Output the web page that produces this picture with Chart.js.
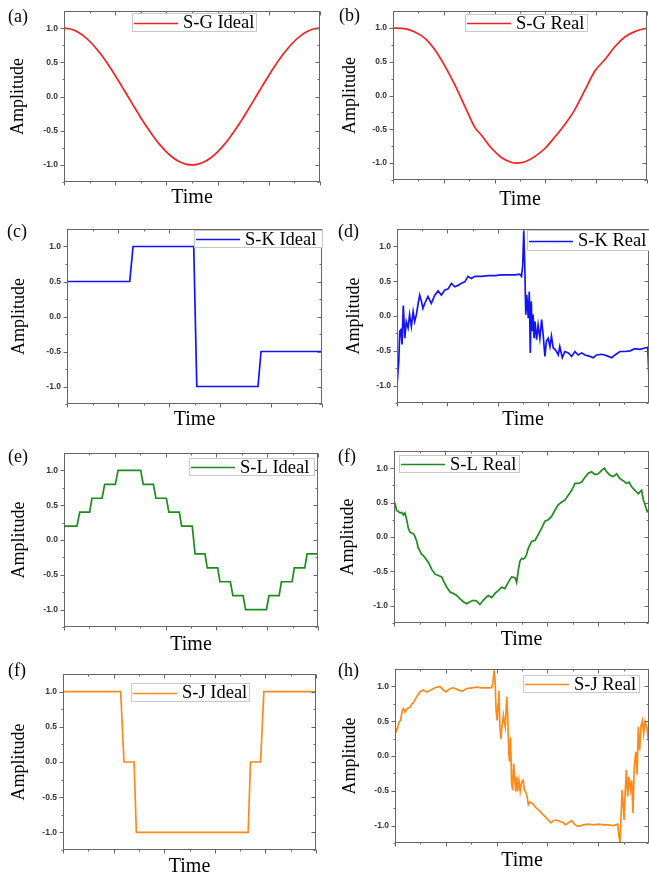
<!DOCTYPE html>
<html>
<head>
<meta charset="utf-8">
<script src="https://cdn.jsdelivr.net/npm/chart.js@4.4.0/dist/chart.umd.min.js"></script>
<style>
  html, body { margin: 0; padding: 0; background: #fff; }
  body { position: relative; width: 649px; height: 879px; overflow: hidden; }
  canvas { position: absolute; }
  .tag { position: absolute; font: 18px/18px "Liberation Serif", "Times New Roman", serif; color: #000; }
</style>
</head>
<body>
<script>
// tick positions shared by all eight panels
const xTicks = [0, 20, 40, 60, 80, 100];
const yTicks = [-1.0, -0.5, 0.0, 0.5, 1.0];

// (a) S-G ideal
const sgIdealTime = [0, 2.5, 5, 7.5, 10, 12.5, 15, 17.5, 20, 22.5, 25, 27.5, 30, 32.5, 35, 37.5, 40, 42.5, 45, 47.5, 50,
  52.5, 55, 57.5, 60, 62.5, 65, 67.5, 70, 72.5, 75, 77.5, 80, 82.5, 85, 87.5, 90, 92.5, 95, 97.5, 100];
const sgIdealAmp = [1.000, 0.988, 0.951, 0.891, 0.809, 0.707, 0.588, 0.454, 0.309, 0.156, 0.000, -0.156, -0.309, -0.454,
  -0.588, -0.707, -0.809, -0.891, -0.951, -0.988, -1.000, -0.988, -0.951, -0.891, -0.809, -0.707, -0.588, -0.454, -0.309,
  -0.156, 0.000, 0.156, 0.309, 0.454, 0.588, 0.707, 0.809, 0.891, 0.951, 0.988, 1.000];

// (b) S-G real
const sgRealTime = [0, 4.6, 8.6, 12.5, 16.4, 20.4, 24.3, 28.3, 32.2, 34.9, 38.8, 42.8, 46.7, 48.7, 52.0, 55.9, 59.9, 63.8,
  67.8, 71.7, 75.7, 79.6, 83.6, 87.5, 91.4, 95.4, 100];
const sgRealAmp = [1.00, 0.99, 0.94, 0.85, 0.68, 0.44, 0.16, -0.16, -0.47, -0.59, -0.78, -0.92, -0.99, -1.00, -0.98, -0.90,
  -0.78, -0.61, -0.42, -0.20, 0.09, 0.37, 0.54, 0.73, 0.87, 0.95, 1.00];

// (c) S-K ideal
const skIdealTime = [0, 24.6, 25.9, 49.7, 50.9, 74.9, 76.1, 100];
const skIdealAmp = [0.5, 0.5, 1.0, 1.0, -1.0, -1.0, -0.5, -0.5];

// (d) S-K real
const skRealTime = [0, 0.7, 1.1, 1.5, 2.0, 2.5, 3.1, 3.7, 4.4, 5.0, 5.7, 6.4, 7.0, 7.7, 8.3, 9.0, 9.7, 10.3, 11.0, 12.3,
  13.6, 15.0, 16.3, 17.6, 18.9, 20.3, 21.6, 22.9, 24.2, 25.6, 26.9, 28.2, 29.5, 30.9, 33.5, 36.2, 38.8, 41.5, 44.1, 46.8,
  48.7, 49.4, 49.9, 50.3, 50.7, 51.1, 51.5, 52.1, 52.5, 52.9, 53.3, 53.6, 54.0, 54.4, 54.8, 55.4, 56.0, 56.7, 57.4, 58.0,
  58.7, 59.3, 60.0, 60.7, 61.3, 62.0, 62.7, 63.3, 64.0, 64.6, 65.6, 66.6, 68.0, 69.3, 70.6, 71.9, 73.3, 74.6, 76.6, 77.9,
  79.2, 81.2, 83.2, 85.2, 86.5, 88.5, 90.5, 92.5, 94.4, 96.4, 98.4, 99.5, 100];
const skRealAmp = [-1.0, -0.65, -0.22, -0.20, -0.41, 0.15, -0.32, -0.08, -0.17, 0.02, -0.15, 0.06, -0.08, 0.02, 0.16, 0.30,
  0.21, 0.11, 0.18, 0.28, 0.18, 0.30, 0.36, 0.30, 0.37, 0.39, 0.47, 0.42, 0.44, 0.47, 0.49, 0.57, 0.54, 0.57, 0.57, 0.58,
  0.58, 0.59, 0.59, 0.59, 0.60, 0.57, 0.73, 1.23, 0.73, 0.02, 0.30, -0.03, 0.35, -0.53, 0.21, -0.22, 0.02, -0.32, -0.08,
  -0.34, -0.13, -0.32, -0.05, -0.27, -0.58, -0.36, -0.32, -0.44, -0.29, -0.46, -0.48, -0.51, -0.56, -0.44, -0.60, -0.51,
  -0.53, -0.58, -0.51, -0.56, -0.53, -0.56, -0.58, -0.60, -0.56, -0.55, -0.57, -0.60, -0.56, -0.51, -0.51, -0.50, -0.47,
  -0.48, -0.46, -0.45, -0.89];

// (e) S-L ideal
const slIdealTime = [0, 5.1, 6.2, 10.1, 11.0, 15.0, 16.0, 20.2, 21.3, 30.2, 31.2, 35.2, 36.2, 40.3, 41.3, 45.4, 46.3, 50.5,
  51.6, 55.5, 56.4, 60.5, 61.4, 65.5, 66.5, 70.5, 71.5, 79.7, 80.7, 84.7, 85.6, 89.8, 90.7, 94.8, 95.7, 100];
const slIdealAmp = [0.2, 0.2, 0.4, 0.4, 0.6, 0.6, 0.8, 0.8, 1.0, 1.0, 0.8, 0.8, 0.6, 0.6, 0.4, 0.4, 0.2, 0.2, -0.2, -0.2,
  -0.4, -0.4, -0.6, -0.6, -0.8, -0.8, -1.0, -1.0, -0.8, -0.8, -0.6, -0.6, -0.4, -0.4, -0.2, -0.2];

// (f) S-L real
const slRealTime = [0, 0.4, 1.0, 1.7, 2.4, 3.0, 3.7, 4.3, 5.0, 5.6, 6.3, 6.9, 7.6, 8.2, 8.9, 9.5, 10.2, 10.8, 11.5, 12.2,
  13.5, 14.8, 16.1, 17.4, 18.7, 19.3, 20.7, 22.0, 23.3, 24.6, 25.9, 27.2, 28.5, 29.8, 31.1, 32.4, 33.7, 35.0, 36.3, 37.0,
  38.3, 39.6, 40.9, 42.2, 43.5, 44.8, 46.1, 47.5, 48.1, 48.8, 49.4, 50.1, 50.7, 51.4, 52.0, 52.7, 54.0, 55.3, 56.6, 57.9,
  59.2, 60.5, 61.8, 63.1, 64.4, 65.8, 67.1, 68.4, 69.7, 71.0, 72.3, 73.6, 74.9, 76.2, 77.5, 78.8, 80.1, 81.4, 82.5, 83.4,
  84.7, 86.0, 87.3, 88.6, 89.9, 91.2, 92.2, 93.2, 94.5, 95.8, 96.5, 97.1, 97.8, 98.7, 99.3, 100];
const slRealAmp = [0.51, 0.49, 0.39, 0.37, 0.35, 0.36, 0.32, 0.35, 0.25, 0.13, 0.07, 0.06, 0.05, 0.01, -0.06, -0.16, -0.20,
  -0.25, -0.27, -0.30, -0.37, -0.47, -0.54, -0.56, -0.58, -0.63, -0.73, -0.80, -0.82, -0.85, -0.90, -0.94, -0.97, -0.94,
  -0.92, -0.93, -0.98, -0.92, -0.87, -0.85, -0.88, -0.82, -0.78, -0.73, -0.75, -0.66, -0.58, -0.59, -0.66, -0.47, -0.35,
  -0.31, -0.32, -0.30, -0.25, -0.16, -0.06, -0.05, 0.04, 0.13, 0.23, 0.25, 0.30, 0.39, 0.47, 0.51, 0.54, 0.61, 0.68, 0.78,
  0.78, 0.80, 0.87, 0.93, 0.95, 0.91, 0.92, 0.97, 1.00, 0.95, 0.90, 0.88, 0.92, 0.85, 0.82, 0.78, 0.80, 0.73, 0.68, 0.63,
  0.66, 0.68, 0.54, 0.44, 0.37, 0.39];

// (g) S-J ideal
const sjIdealTime = [0, 22.8, 24.1, 28.1, 29.0, 73.2, 74.1, 78.1, 79.4, 100];
const sjIdealAmp = [1.0, 1.0, 0.0, 0.0, -1.0, -1.0, 0.0, 0.0, 1.0, 1.0];

// (h) S-J real
const sjRealTime = [0, 0.4, 0.9, 1.6, 2.2, 2.9, 3.4, 3.9, 4.6, 5.2, 5.9, 6.6, 7.2, 7.9, 8.5, 9.8, 11.2, 12.5, 13.8, 15.7,
  17.7, 19.0, 20.0, 21.7, 23.0, 24.9, 26.5, 28.2, 30.2, 32.2, 34.1, 36.1, 37.7, 38.1, 38.5, 39.0, 39.4, 39.8, 40.2, 40.6,
  40.9, 41.3, 41.7, 42.1, 42.7, 43.0, 43.4, 44.0, 44.4, 44.8, 45.1, 45.5, 45.9, 46.3, 46.7, 47.1, 47.5, 47.9, 48.3, 48.8,
  49.3, 49.9, 50.5, 50.9, 51.4, 52.0, 52.5, 53.1, 53.8, 54.5, 55.1, 56.4, 57.7, 59.1, 60.4, 61.4, 62.3, 63.6, 65.0, 66.3,
  67.2, 68.2, 69.6, 70.9, 72.2, 74.1, 76.1, 78.1, 80.1, 82.0, 84.0, 86.0, 87.7, 88.2, 88.6, 89.0, 89.4, 89.8, 90.2, 90.6,
  91.1, 91.6, 92.1, 92.7, 93.2, 93.7, 94.2, 94.8, 95.3, 95.8, 96.3, 96.9, 97.4, 97.9, 98.4, 99.1, 99.5, 100];
const sjRealAmp = [0.44, 0.35, 0.39, 0.49, 0.51, 0.66, 0.68, 0.63, 0.67, 0.69, 0.70, 0.75, 0.76, 0.81, 0.85, 0.92, 0.95,
  0.92, 0.94, 0.98, 1.00, 0.95, 0.92, 0.97, 0.98, 0.95, 0.93, 0.97, 0.98, 0.99, 0.98, 0.98, 0.98, 0.99, 1.04, 1.23, 1.09,
  0.66, 0.51, 0.75, 0.94, 0.42, 0.24, 0.42, 0.58, 0.49, 0.42, 0.85, 0.56, 0.04, -0.08, 0.27, -0.39, -0.49, -0.11, -0.30,
  -0.51, -0.30, -0.51, -0.35, -0.51, -0.37, -0.35, -0.49, -0.51, -0.58, -0.70, -0.66, -0.68, -0.69, -0.73, -0.77, -0.82,
  -0.87, -0.92, -0.96, -0.93, -0.92, -0.94, -0.96, -0.99, -0.96, -0.93, -0.99, -1.01, -0.99, -0.98, -0.99, -0.98, -0.99,
  -0.99, -1.00, -0.98, -1.16, -1.24, -0.87, -0.49, -0.68, -0.92, -0.54, -0.20, -0.58, -0.30, -0.49, -0.35, -0.82, -0.16,
  0.06, -0.27, 0.42, 0.08, 0.44, 0.51, 0.32, 0.49, 0.42, 0.30, 0.42];

const RED = '#f02424', BLUE = '#1414f0', GREEN = '#1f8a1f', ORANGE = '#ff8a1c';
const SERIF = '"Liberation Serif", "Times New Roman", serif';

// page layout: canvas box, plot area (absolute px), title spots, legend box, panel tag
const panels = [
  { tag: '(a)', label: 'S-G Ideal', color: RED, time: sgIdealTime, amp: sgIdealAmp, smooth: true,
    box: [0, 0, 325, 230], plot: [64, 5, 320, 182], ampX: 18.5, timeY: 198, legend: [132, 13, 125, 19], tagAt: [8, 7] },
  { tag: '(b)', label: 'S-G Real', color: RED, time: sgRealTime, amp: sgRealAmp, smooth: true,
    box: [325, 0, 324, 230], plot: [393, 5, 647, 180], ampX: 350, timeY: 200, legend: [465, 14, 123, 18], tagAt: [339, 6] },
  { tag: '(c)', label: 'S-K Ideal', color: BLUE, time: skIdealTime, amp: skIdealAmp,
    box: [0, 215, 325, 230], plot: [67, 229, 322, 404], ampX: 19, timeY: 420, legend: [194, 230, 129, 18], tagAt: [7, 222] },
  { tag: '(d)', label: 'S-K Real', color: BLUE, time: skRealTime, amp: skRealAmp,
    box: [325, 215, 324, 230], plot: [397, 229, 649, 403], ampX: 354, timeY: 420, legend: [527, 230, 125, 21], tagAt: [338, 222] },
  { tag: '(e)', label: 'S-L Ideal', color: GREEN, time: slIdealTime, amp: slIdealAmp,
    box: [0, 440, 325, 230], plot: [64, 453, 318, 627], ampX: 19, timeY: 645, legend: [189, 458, 126, 18], tagAt: [8, 447] },
  { tag: '(f)', label: 'S-L Real', color: GREEN, time: slRealTime, amp: slRealAmp,
    box: [325, 440, 324, 230], plot: [394, 449, 649, 623], ampX: 348, timeY: 640, legend: [399, 455, 121, 18], tagAt: [338, 447] },
  { tag: '(f)', label: 'S-J Ideal', color: ORANGE, time: sjIdealTime, amp: sjIdealAmp,
    box: [0, 650, 325, 229], plot: [63, 674, 316, 850], ampX: 19, timeY: 867, legend: [131, 683, 119, 19], tagAt: [8, 661] },
  { tag: '(h)', label: 'S-J Real', color: ORANGE, time: sjRealTime, amp: sjRealAmp,
    box: [325, 650, 324, 229], plot: [395, 669, 649, 843], ampX: 350, timeY: 861, legend: [523, 675, 117, 18], tagAt: [338, 661] },
];

// Origin-style box frame with ticks: out on left/bottom, in on top/right
const frameTicks = {
  id: 'frameTicks',
  afterDatasetsDraw(chart) {
    const { ctx, chartArea: a, scales: { x, y } } = chart;
    const L = Math.round(a.left) + 0.5, R = Math.round(a.right) - 0.5;
    const T = Math.round(a.top) + 0.5, B = Math.round(a.bottom) - 0.5;
    ctx.save();
    ctx.strokeStyle = '#666';
    ctx.lineWidth = 1;
    ctx.strokeRect(L, T, R - L, B - T);
    ctx.beginPath();
    const xs = [];
    xTicks.forEach((v, i) => {
      xs.push([v, 4]);
      if (i < xTicks.length - 1) xs.push([(v + xTicks[i + 1]) / 2, 2]);
    });
    xs.forEach(([v, len]) => {
      const px = Math.round(x.getPixelForValue(v)) + 0.5;
      ctx.moveTo(px, B); ctx.lineTo(px, B + len);
      ctx.moveTo(px, T); ctx.lineTo(px, T + len);
    });
    const ys = [];
    yTicks.forEach((v, i) => {
      ys.push([v, 4]);
      if (i < yTicks.length - 1) ys.push([(v + yTicks[i + 1]) / 2, 2]);
    });
    ys.push([yTicks[0] - 0.25, 2]);
    ys.forEach(([v, len]) => {
      const py = Math.round(y.getPixelForValue(v)) + 0.5;
      ctx.moveTo(L, py); ctx.lineTo(L - len, py);
      ctx.moveTo(R, py); ctx.lineTo(R - len, py);
    });
    ctx.stroke();
    ctx.restore();
  }
};

// legend box drawn inside the plot, like the Origin figure
const boxLegend = {
  id: 'boxLegend',
  afterDatasetsDraw(chart, args, opts) {
    const ds = chart.data.datasets[0];
    const { ctx } = chart;
    const [bx, by, bw, bh] = opts.rect;
    ctx.save();
    ctx.fillStyle = '#fff';
    ctx.fillRect(bx, by, bw, bh);
    ctx.strokeStyle = '#c8c8c8';
    ctx.lineWidth = 1;
    ctx.strokeRect(bx + 0.5, by + 0.5, bw - 1, bh - 1);
    const my = Math.round(by + bh / 2) + 0.5;
    ctx.strokeStyle = ds.borderColor;
    ctx.lineWidth = 1.6;
    ctx.beginPath();
    ctx.moveTo(bx + 2, my); ctx.lineTo(bx + 46, my);
    ctx.stroke();
    ctx.fillStyle = '#000';
    ctx.font = '18.5px ' + SERIF;
    ctx.textBaseline = 'middle';
    ctx.fillText(ds.label, bx + 51, by + bh / 2 + 1);
    ctx.restore();
  }
};

panels.forEach(p => {
  const [cx, cy, cw, ch] = p.box;
  const [pl, pt, pr, pb] = p.plot;
  const cv = document.createElement('canvas');
  cv.width = cw; cv.height = ch;
  cv.style.left = cx + 'px'; cv.style.top = cy + 'px';
  document.body.appendChild(cv);

  const tag = document.createElement('div');
  tag.className = 'tag';
  tag.textContent = p.tag;
  tag.style.left = p.tagAt[0] + 'px';
  tag.style.top = p.tagAt[1] + 'px';
  document.body.appendChild(tag);

  const padLeft = p.ampX - cx - 9;
  const yW = pl - cx - padLeft;
  const xBottom = p.timeY - cy + 10;
  const xH = xBottom - (pb - cy);
  const [lx, ly, lw, lh] = p.legend;

  new Chart(cv, {
    type: 'line',
    data: {
      datasets: [{
        label: p.label,
        data: p.time.map((t, i) => ({ x: t, y: p.amp[i] })),
        borderColor: p.color,
        borderWidth: 1.7,
        pointRadius: 0,
        fill: false,
        tension: p.smooth ? 0.3 : 0
      }]
    },
    options: {
      responsive: false,
      animation: false,
      devicePixelRatio: 1,
      events: [],
      layout: { padding: { left: padLeft, top: pt - cy, right: cw - (pr - cx), bottom: ch - xBottom } },
      plugins: {
        legend: { display: false },
        tooltip: { enabled: false },
        boxLegend: { rect: [lx - cx, ly - cy, lw, lh] }
      },
      scales: {
        x: {
          type: 'linear', min: 0, max: 100,
          grid: { display: false, drawTicks: false },
          border: { display: false },
          ticks: { display: false },
          title: { display: true, text: 'Time', color: '#000', padding: 0,
                   font: { family: SERIF, size: 20, lineHeight: 1 } },
          afterFit(s) { s.height = xH; }
        },
        y: {
          type: 'linear', min: -1.25, max: 1.25,
          grid: { display: false, drawTicks: false },
          border: { display: false },
          afterBuildTicks(s) { s.ticks = yTicks.map(v => ({ value: v })); },
          ticks: {
            padding: 6, color: '#333', autoSkip: false,
            font: { family: '"Liberation Sans", Arial, sans-serif', size: 8.5, weight: 'bold' },
            callback: v => v.toFixed(1)
          },
          title: { display: true, text: 'Amplitude', color: '#000', padding: 0,
                   font: { family: SERIF, size: 18, lineHeight: 1 } },
          afterFit(s) { s.width = yW; }
        }
      }
    },
    plugins: [frameTicks, boxLegend]
  });
});
</script>
</body>
</html>
